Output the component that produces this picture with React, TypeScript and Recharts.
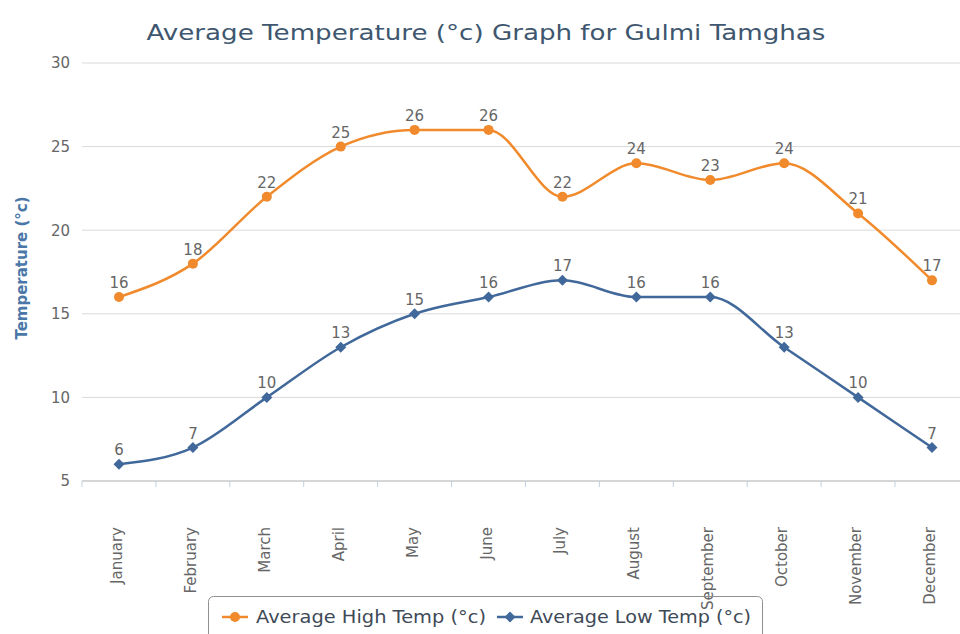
import React from "react";
import {
  LineChart,
  Line,
  CartesianGrid,
  XAxis,
  YAxis,
  LabelList,
} from "recharts";

const months = [
  "January",
  "February",
  "March",
  "April",
  "May",
  "June",
  "July",
  "August",
  "September",
  "October",
  "November",
  "December",
];
const highTemps = [16, 18, 22, 25, 26, 26, 22, 24, 23, 24, 21, 17];
const lowTemps = [6, 7, 10, 13, 15, 16, 17, 16, 16, 13, 10, 7];
const yTicks = [5, 10, 15, 20, 25, 30];

const HIGH_NAME = "Average High Temp (°c)";
const LOW_NAME = "Average Low Temp (°c)";
const ORANGE = "#f08a2c";
const BLUE = "#41689a";
const FONT = "'DejaVu Sans', Verdana, sans-serif";

const data = months.map((m, i) => ({
  month: m,
  high: highTemps[i],
  low: lowTemps[i],
}));

// half a category band, ticks sit between months like highcharts
const HALF_BAND = 37;

const MonthTick = (props: any) => {
  const { x, payload } = props;
  const y = 527;
  const tx = x - HALF_BAND;
  return (
    <g>
      <line x1={tx} y1={481} x2={tx} y2={487} stroke="#c0d0e0" />
      <text
        x={x - 2}
        y={y}
        transform={`rotate(-90 ${x - 2} ${y})`}
        textAnchor="end"
        dominantBaseline="central"
        fill="#666"
        fontSize={15}
        fontFamily={FONT}
      >
        {payload.value}
      </text>
    </g>
  );
};

const Diamond = (props: any) => {
  const { cx, cy } = props;
  if (cx == null || cy == null) return null;
  const s = 5.5;
  return (
    <path
      d={`M${cx},${cy - s}L${cx + s},${cy}L${cx},${cy + s}L${cx - s},${cy}Z`}
      fill={BLUE}
    />
  );
};

const YLabel = () => (
  <text
    x={22}
    y={268}
    transform="rotate(-90 22 268)"
    textAnchor="middle"
    dominantBaseline="central"
    fill="#4a77a8"
    fontSize={15}
    fontWeight="bold"
    fontFamily={FONT}
  >
    Temperature (°c)
  </text>
);

export default function App() {
  return (
    <div
      style={{
        position: "fixed",
        left: 0,
        top: 0,
        width: 960,
        height: 634,
        overflow: "hidden",
        background: "#fff",
      }}
    >
      <LineChart
        width={969}
        height={634}
        data={data}
        margin={{ top: 63, right: 0, left: 0, bottom: 0 }}
        style={{ fontFamily: FONT }}
      >
        <CartesianGrid horizontal vertical={false} stroke="#d9d9d9" />
        <XAxis
          dataKey="month"
          height={153}
          padding={{ left: HALF_BAND, right: HALF_BAND }}
          axisLine={{ stroke: "#c0c0c0" }}
          tickLine={false}
          interval={0}
          tick={<MonthTick />}
        />
        <YAxis
          width={82}
          domain={[5, 30]}
          ticks={yTicks}
          axisLine={false}
          tickLine={false}
          tickSize={0}
          tickMargin={12}
          tick={{ fill: "#666", fontSize: 15 }}
          label={<YLabel />}
        />
        <Line
          type="monotone"
          dataKey="high"
          name={HIGH_NAME}
          stroke={ORANGE}
          strokeWidth={2.5}
          dot={{ r: 5, fill: ORANGE, stroke: ORANGE, strokeWidth: 0 }}
          activeDot={false}
          isAnimationActive={false}
        >
          <LabelList dataKey="high" position="top" offset={9} fill="#666" fontSize={15} />
        </Line>
        <Line
          type="monotone"
          dataKey="low"
          name={LOW_NAME}
          stroke={BLUE}
          strokeWidth={2.5}
          dot={<Diamond />}
          activeDot={false}
          isAnimationActive={false}
        >
          <LabelList dataKey="low" position="top" offset={9} fill="#666" fontSize={15} />
        </Line>
      </LineChart>
      <svg
        width={960}
        height={634}
        style={{ position: "absolute", left: 0, top: 0, pointerEvents: "none" }}
      >
        <text
          x={486}
          y={32}
          textAnchor="middle"
          dominantBaseline="central"
          fill="#3e576f"
          fontSize={22}
          fontFamily={FONT}
          textLength={679}
          lengthAdjust="spacingAndGlyphs"
        >
          Average Temperature (°c) Graph for Gulmi Tamghas
        </text>
        <rect
          x={208.5}
          y={596.5}
          width={554}
          height={60}
          rx={5}
          fill="none"
          stroke="#909090"
        />
        <line x1={222} y1={617} x2={248} y2={617} stroke={ORANGE} strokeWidth={2.5} />
        <circle cx={235} cy={617} r={5} fill={ORANGE} />
        <text
          x={256}
          y={617}
          dominantBaseline="central"
          fill="#3e4a57"
          fontSize={17}
          fontFamily={FONT}
          textLength={230}
          lengthAdjust="spacingAndGlyphs"
        >
          {HIGH_NAME}
        </text>
        <line x1={497} y1={617} x2={523} y2={617} stroke={BLUE} strokeWidth={2.5} />
        <path d="M510,611.5L515.5,617L510,622.5L504.5,617Z" fill={BLUE} />
        <text
          x={530}
          y={617}
          dominantBaseline="central"
          fill="#3e4a57"
          fontSize={17}
          fontFamily={FONT}
          textLength={221}
          lengthAdjust="spacingAndGlyphs"
        >
          {LOW_NAME}
        </text>
      </svg>
    </div>
  );
}
